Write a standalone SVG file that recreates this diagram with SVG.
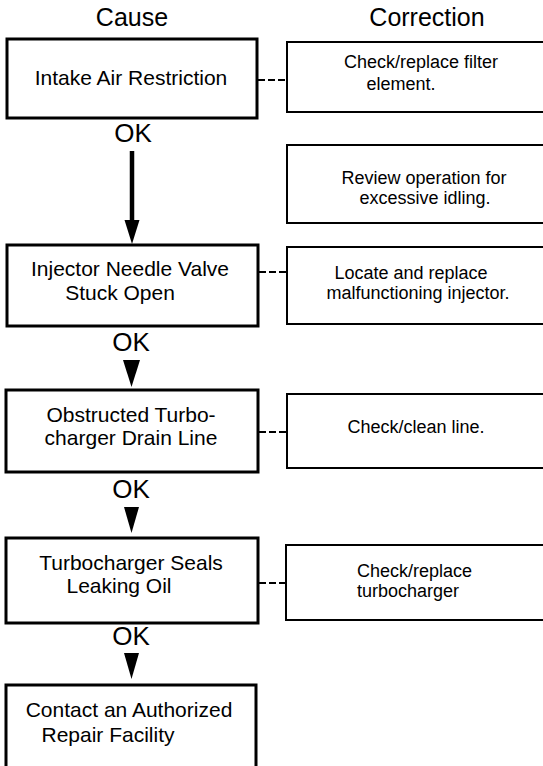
<svg xmlns="http://www.w3.org/2000/svg" width="543" height="766" viewBox="0 0 543 766">
<style>
.bg{fill:#ffffff}
.cause rect{fill:#ffffff;stroke:#000;stroke-width:3}
.corr rect{fill:#ffffff;stroke:#000;stroke-width:2}
.ct{font-family:"Liberation Sans",Arial,sans-serif;font-size:21px;fill:#000;text-anchor:middle}
.rt{font-family:"Liberation Sans",Arial,sans-serif;font-size:18px;fill:#000;text-anchor:middle}
.hd{font-family:"Liberation Sans",Arial,sans-serif;font-size:25px;fill:#000;text-anchor:middle}
.ok{font-family:"Liberation Sans",Arial,sans-serif;font-size:26px;fill:#000;text-anchor:middle}
.dash{stroke:#000;stroke-width:2;stroke-dasharray:7 3;fill:none}
.stem{stroke:#000;stroke-width:4.5;fill:none}
.head{fill:#000}
</style>
<rect class="bg" x="0" y="0" width="543" height="766"/>
<g id="headers">
<text class="hd" x="132" y="26">Cause</text>
<text class="hd" x="427" y="26">Correction</text>
</g>
<g id="cause1" class="cause">
<rect x="7" y="39" width="250" height="79"/>
<text class="ct" x="131" y="85">Intake Air Restriction</text>
</g>
<g id="corr1" class="corr">
<rect x="287" y="42" width="265" height="70"/>
<text class="rt" x="421" y="68">Check/replace filter</text>
<text class="rt" x="401" y="90">element.</text>
</g>
<g id="corr2" class="corr">
<rect x="287" y="145" width="265" height="78"/>
<text class="rt" x="424" y="184">Review operation for</text>
<text class="rt" x="425" y="204">excessive idling.</text>
</g>
<g id="cause2" class="cause">
<rect x="7" y="245" width="251" height="81"/>
<text class="ct" x="130" y="276">Injector Needle Valve</text>
<text class="ct" x="120" y="300">Stuck Open</text>
</g>
<g id="corr3" class="corr">
<rect x="287" y="247" width="265" height="77"/>
<text class="rt" x="411" y="279">Locate and replace</text>
<text class="rt" x="418" y="299">malfunctioning injector.</text>
</g>
<g id="cause3" class="cause">
<rect x="6" y="390" width="252" height="82"/>
<text class="ct" x="131" y="422">Obstructed Turbo-</text>
<text class="ct" x="131" y="445">charger Drain Line</text>
</g>
<g id="corr4" class="corr">
<rect x="287" y="394" width="265" height="74"/>
<text class="rt" x="416" y="433">Check/clean line.</text>
</g>
<g id="cause4" class="cause">
<rect x="6" y="538" width="252" height="85"/>
<text class="ct" x="131" y="570">Turbocharger Seals</text>
<text class="ct" x="119" y="593">Leaking Oil</text>
</g>
<g id="corr5" class="corr">
<rect x="286" y="545" width="265" height="75"/>
<text class="rt" x="357" y="577" style="text-anchor:start">Check/replace</text>
<text class="rt" x="357" y="597" style="text-anchor:start">turbocharger</text>
</g>
<g id="cause5" class="cause">
<rect x="6" y="685" width="250" height="100"/>
<text class="ct" x="129" y="717">Contact an Authorized</text>
<text class="ct" x="108" y="742">Repair Facility</text>
</g>
<g id="connectors">
<line class="dash" x1="258" y1="80" x2="286" y2="80"/>
<line class="dash" x1="259" y1="272" x2="286" y2="272"/>
<line class="dash" x1="259" y1="432" x2="286" y2="432"/>
<line class="dash" x1="259" y1="583" x2="285" y2="583"/>
<text class="ok" x="133" y="142">OK</text>
<line class="stem" x1="132" y1="151" x2="132" y2="222"/>
<polygon class="head" points="124.5,220 139.5,220 132,244"/>
<text class="ok" x="131" y="351">OK</text>
<polygon class="head" points="123,360 140,360 131.5,387"/>
<text class="ok" x="131" y="498">OK</text>
<polygon class="head" points="124,507 139,507 131.5,533"/>
<text class="ok" x="131" y="645">OK</text>
<polygon class="head" points="124,653 139,653 131.5,679"/>
</g>
</svg>
